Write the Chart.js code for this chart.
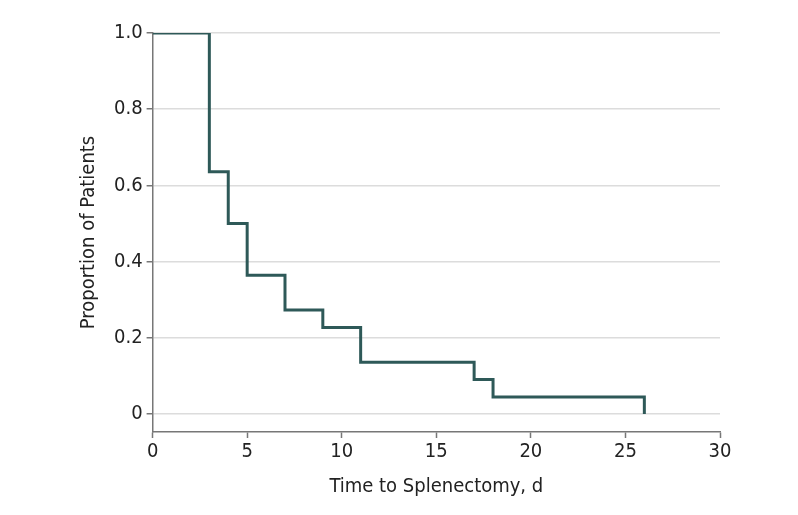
<!DOCTYPE html>
<html>
<head>
<meta charset="utf-8">
<script src="https://cdn.jsdelivr.net/npm/chart.js@4"></script>
<style>
html,body{margin:0;padding:0;background:#fff;}
#wrap{width:798px;height:515px;}
</style>
</head>
<body>
<div id="wrap"><canvas id="c" width="798" height="515"></canvas></div>
<script>
const timesDays = [0, 3, 4, 5, 7, 9, 11, 17, 18, 26, 26];
const proportionPatients = [1.0, 0.636, 0.5, 0.364, 0.273, 0.227, 0.136, 0.091, 0.045, 0.045, 0];
const yTickValues = [0, 0.2, 0.4, 0.6, 0.8, 1.0];
const xTickValues = [0, 5, 10, 15, 20, 25, 30];

const fontFam = "'DejaVu Sans Condensed','Liberation Sans Narrow','DejaVu Sans',sans-serif";
const points = timesDays.map((t, i) => ({x: t, y: proportionPatients[i]}));

new Chart(document.getElementById('c'), {
  type: 'line',
  data: {
    datasets: [{
      data: points,
      stepped: 'before',
      borderColor: '#2e5958',
      borderWidth: 3,
      pointRadius: 0,
      fill: false,
      borderCapStyle: 'butt',
      borderJoinStyle: 'miter'
    }]
  },
  options: {
    responsive: false,
    animation: false,
    devicePixelRatio: 1,
    layout: {padding: {left: 73, right: 78, top: 33, bottom: 12}},
    plugins: {legend: {display: false}, tooltip: {enabled: false}},
    scales: {
      x: {
        type: 'linear',
        min: 0, max: 30,
        afterBuildTicks: s => { s.ticks = xTickValues.map(v => ({value: v})); },
        border: {display: true, color: '#777', width: 1.5},
        grid: {drawOnChartArea: false, drawTicks: true, tickLength: 6, tickColor: '#777', tickWidth: 1.5},
        ticks: {color: '#222', font: {family: fontFam, size: 20}, padding: 2, maxRotation: 0},
        title: {display: true, text: 'Time to Splenectomy, d', color: '#222', font: {family: fontFam, size: 20}, padding: {top: 9}}
      },
      y: {
        min: -0.047, max: 1.0,
        afterBuildTicks: s => { s.ticks = yTickValues.map(v => ({value: v})); },
        border: {display: true, color: '#777', width: 1.5},
        grid: {color: '#dcdcdc', lineWidth: 1.5, drawTicks: true, tickLength: 6, tickColor: '#777', tickWidth: 1.5},
        ticks: {color: '#222', font: {family: fontFam, size: 20}, padding: 4,
          callback: v => v === 0 ? '0' : v.toFixed(1)},
        title: {display: true, text: 'Proportion of Patients', color: '#222', font: {family: fontFam, size: 20}, padding: {bottom: 9}}
      }
    }
  }
});
</script>
</body>
</html>
